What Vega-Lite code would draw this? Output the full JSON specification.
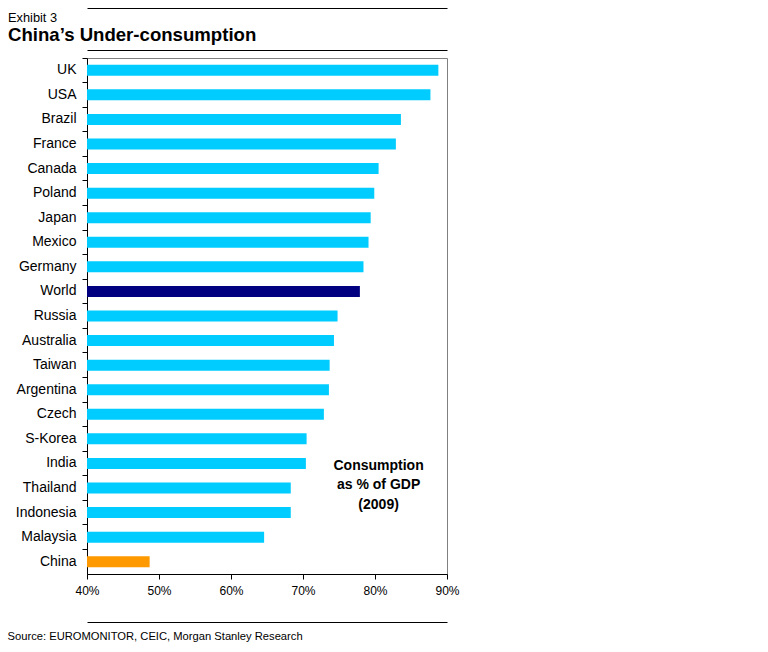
{
  "$schema": "https://vega.github.io/schema/vega-lite/v6.json",
  "width": 360,
  "height": 516,
  "autosize": {"type": "none"},
  "padding": {"left": 87, "top": 58, "right": 321, "bottom": 78},
  "background": "white",
  "config": {
    "font": "Liberation Sans",
    "view": {"stroke": "#808080", "strokeWidth": 1}
  },
  "title": {
    "text": "Exhibit 3",
    "subtitle": "China’s Under-consumption",
    "anchor": "start",
    "frame": "group",
    "dx": -79,
    "dy": 48,
    "fontSize": 12.8,
    "fontWeight": "normal",
    "color": "black",
    "subtitleFontSize": 18.6,
    "subtitleFontWeight": "bold",
    "subtitleColor": "black",
    "subtitlePadding": 2,
    "offset": 11
  },
  "data": {
    "values": [
      {"country": "UK", "value": 88.8, "type": "Country"},
      {"country": "USA", "value": 87.7, "type": "Country"},
      {"country": "Brazil", "value": 83.6, "type": "Country"},
      {"country": "France", "value": 82.9, "type": "Country"},
      {"country": "Canada", "value": 80.5, "type": "Country"},
      {"country": "Poland", "value": 79.9, "type": "Country"},
      {"country": "Japan", "value": 79.4, "type": "Country"},
      {"country": "Mexico", "value": 79.1, "type": "Country"},
      {"country": "Germany", "value": 78.4, "type": "Country"},
      {"country": "World", "value": 77.9, "type": "World"},
      {"country": "Russia", "value": 74.8, "type": "Country"},
      {"country": "Australia", "value": 74.3, "type": "Country"},
      {"country": "Taiwan", "value": 73.7, "type": "Country"},
      {"country": "Argentina", "value": 73.6, "type": "Country"},
      {"country": "Czech", "value": 72.9, "type": "Country"},
      {"country": "S-Korea", "value": 70.5, "type": "Country"},
      {"country": "India", "value": 70.4, "type": "Country"},
      {"country": "Thailand", "value": 68.3, "type": "Country"},
      {"country": "Indonesia", "value": 68.3, "type": "Country"},
      {"country": "Malaysia", "value": 64.6, "type": "Country"},
      {"country": "China", "value": 48.7, "type": "China"}
    ]
  },
  "encoding": {
    "y": {
      "field": "country",
      "type": "nominal",
      "sort": ["UK","USA","Brazil","France","Canada","Poland","Japan","Mexico","Germany","World","Russia","Australia","Taiwan","Argentina","Czech","S-Korea","India","Thailand","Indonesia","Malaysia","China"],
      "scale": {"padding": 0},
      "axis": {
        "title": null,
        "bandPosition": 0,
        "domainColor": "black",
        "tickColor": "black",
        "tickSize": 5,
        "labelPadding": 6,
        "labelFontSize": 14,
        "labelColor": "black",
        "labelFont": "Liberation Sans"
      }
    }
  },
  "layer": [
    {
      "mark": {"type": "bar", "size": 11, "clip": true},
      "encoding": {
        "x": {
          "field": "value",
          "type": "quantitative",
          "scale": {"domain": [40, 90], "nice": false, "zero": false},
          "axis": {
            "values": [40, 50, 60, 70, 80, 90],
            "labelExpr": "datum.value + '%'",
            "grid": false,
            "domainColor": "black",
            "tickColor": "black",
            "tickSize": 5,
            "labelPadding": 6,
            "labelFontSize": 12,
            "labelColor": "black",
            "labelFlush": false,
            "title": "Source: EUROMONITOR, CEIC, Morgan Stanley Research",
            "titleX": -80,
            "titleY": 62,
            "titleAlign": "left",
            "titleBaseline": "middle",
            "titleFontSize": 11.2,
            "titleFontWeight": "normal",
            "titleColor": "black"
          }
        },
        "color": {
          "field": "type",
          "type": "nominal",
          "scale": {"domain": ["Country", "World", "China"], "range": ["#00CCFF", "#000080", "#FF9900"]},
          "legend": null
        }
      }
    },
    {
      "data": {"values": [{"note": "Consumption as % of GDP (2009)"}]},
      "mark": {
        "type": "text",
        "text": ["Consumption", "as % of GDP", "(2009)"],
        "fontSize": 14,
        "fontWeight": "bold",
        "lineHeight": 19.5,
        "baseline": "middle",
        "align": "center",
        "dy": 2.5,
        "color": "black"
      },
      "encoding": {
        "x": {"datum": 80.5, "type": "quantitative", "axis": {"orient": "top", "offset": 8, "domainColor": "black", "ticks": false, "labels": false, "grid": false, "title": null}},
        "y": {"datum": "India"}
      }
    },
    {
      "data": {"values": [{"note": ""}]},
      "mark": {"type": "text", "text": ""},
      "encoding": {
        "x": {"datum": 40, "type": "quantitative", "axis": {"orient": "bottom", "offset": 48, "domainColor": "black", "ticks": false, "labels": false, "grid": false, "title": null}},
        "y": {"datum": "UK"}
      }
    },
    {
      "data": {"values": [{"note": ""}]},
      "mark": {"type": "text", "text": ""},
      "encoding": {
        "x": {"datum": 40, "type": "quantitative", "axis": {"orient": "top", "offset": 50, "domainColor": "black", "ticks": false, "labels": false, "grid": false, "title": null}},
        "y": {"datum": "UK"}
      }
    }
  ],
  "resolve": {"axis": {"x": "independent"}}
}
